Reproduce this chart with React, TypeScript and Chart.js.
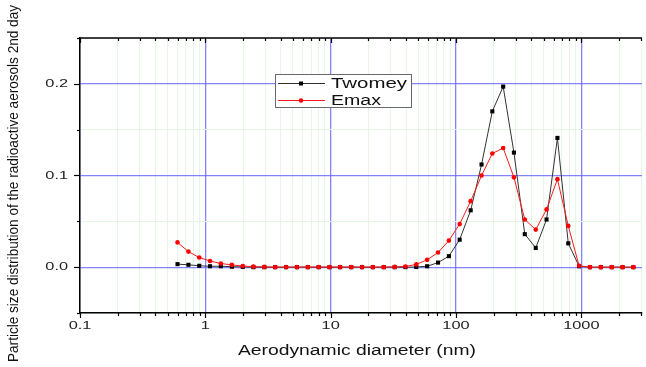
import React, { useEffect, useRef } from "react";
import { Chart, registerables } from "chart.js";

Chart.register(...registerables);

// ---- data ----
const diameters = [
  0.6, 0.733, 0.894, 1.09, 1.33, 1.63, 1.99, 2.42, 2.96, 3.61, 4.41, 5.38, 6.57, 8.02, 9.79,
  11.9, 14.6, 17.8, 21.7, 26.5, 32.4, 39.5, 48.2, 58.9, 71.9, 87.8, 107, 131, 160, 195, 238,
  290, 354, 433, 528, 645, 787, 960, 1172, 1431, 1747, 2133, 2603,
];
const twomey = [
  0.0033, 0.0026, 0.0015, 0.001, 0.001, 0.0005, 0.0003, 0, 0, 0, 0, 0, 0, 0, 0,
  0, 0, 0, 0, 0, 0, 0, 0.0002, 0.001, 0.005, 0.012, 0.03, 0.062, 0.112, 0.17, 0.197,
  0.125, 0.036, 0.021, 0.052, 0.141, 0.026, 0.001, 0, 0, 0, 0, 0,
];
const emax = [
  0.027, 0.017, 0.0105, 0.0067, 0.004, 0.0025, 0.0012, 0.0006, 0.0003, 0.0001, 0.0001, 0.0001, 0.0001, 0.0001, 0.0001,
  0.0001, 0.0001, 0.0001, 0.0001, 0.0001, 0.0003, 0.0008, 0.003, 0.008, 0.016, 0.029, 0.047, 0.072, 0.1, 0.124, 0.13,
  0.098, 0.052, 0.041, 0.063, 0.096, 0.045, 0.0015, 0, 0, 0, 0, 0,
];
const seriesNames = ["Twomey", "Emax"];
const xDecades = [0.1, 1, 10, 100, 1000];
const xTickLabels = ["0.1", "1", "10", "100", "1000"];
const yMajorValues = [0, 0.1, 0.2];
const yTickLabels = ["0.0", "0.1", "0.2"];
const xTitle = "Aerodynamic diameter (nm)";
const yTitle = "Particle size distribution of the radioactive aerosols 2nd day";

const X_MIN = 0.1;
const X_MAX = 3050;
const Y_MIN = -0.05;
const Y_MAX = 0.25;

const BLUE = "rgba(100,100,255,0.8)";
const GREEN = "#e4f6e4";
const FONT = "'Liberation Sans', Arial, sans-serif";

const xAllTicks: number[] = [];
xDecades.forEach((d) => {
  for (let m = 1; m <= 9; m++) {
    const v = +(d * m).toPrecision(6);
    if (v <= X_MAX) xAllTicks.push(v);
  }
});

const isDecade = (v: number) => Math.abs(Math.log10(v) - Math.round(Math.log10(v))) < 1e-6;
const isYMajor = (v: number) => Math.abs(v * 10 - Math.round(v * 10)) < 1e-6;

function stretchedText(
  ctx: CanvasRenderingContext2D,
  text: string,
  x: number,
  y: number,
  sx: number,
  align: "left" | "center" | "right"
) {
  ctx.save();
  ctx.translate(x, y);
  ctx.scale(sx, 1);
  ctx.textAlign = align;
  ctx.fillText(text, 0, 0);
  ctx.restore();
}

const decorPlugin = {
  id: "decor",
  afterDraw(chart: any) {
    const ctx: CanvasRenderingContext2D = chart.ctx;
    const xs = chart.scales.x;
    const ys = chart.scales.y;
    const { left, right, top, bottom } = chart.chartArea;
    ctx.save();
    ctx.strokeStyle = "#000";
    ctx.lineWidth = 1.5;
    // top axis line
    ctx.beginPath();
    ctx.moveTo(left - 0.5, top);
    ctx.lineTo(right, top);
    ctx.stroke();
    // x ticks (bottom outward, top inward)
    ctx.lineWidth = 1.2;
    xAllTicks.forEach((v) => {
      const px = Math.round(xs.getPixelForValue(v)) + 0.5;
      const len = isDecade(v) ? 5 : 3;
      ctx.beginPath();
      ctx.moveTo(px, bottom);
      ctx.lineTo(px, bottom + len);
      ctx.moveTo(px, top);
      ctx.lineTo(px, top + len);
      ctx.stroke();
    });
    // y ticks (left outward)
    for (let k = 0; k <= 6; k++) {
      const v = Y_MIN + k * 0.05;
      const py = Math.round(ys.getPixelForValue(v)) + 0.5;
      const len = isYMajor(v) ? 6 : 3;
      ctx.beginPath();
      ctx.moveTo(left, py);
      ctx.lineTo(left - len, py);
      ctx.stroke();
    }
    // tick labels
    ctx.fillStyle = "#222";
    ctx.font = `11.5px ${FONT}`;
    ctx.textBaseline = "middle";
    xDecades.forEach((v, i) => {
      stretchedText(ctx, xTickLabels[i], xs.getPixelForValue(v), bottom + 13, 1.42, "center");
    });
    yMajorValues.forEach((v, i) => {
      stretchedText(ctx, yTickLabels[i], left - 12, ys.getPixelForValue(v), 1.42, "right");
    });
    // axis titles
    ctx.fillStyle = "#111";
    ctx.font = `14px ${FONT}`;
    const xw = ctx.measureText(xTitle).width;
    stretchedText(ctx, xTitle, 357, 351, 238 / xw, "center");
    const yw = ctx.measureText(yTitle).width;
    ctx.save();
    ctx.translate(14, 183.5);
    ctx.rotate(-Math.PI / 2);
    ctx.scale(357 / yw, 1);
    ctx.textAlign = "center";
    ctx.fillText(yTitle, 0, 0);
    ctx.restore();

    // legend
    const bx = 275.5, by = 74.5, bw = 136, bh = 33;
    ctx.fillStyle = "#fff";
    ctx.fillRect(bx, by, bw, bh);
    ctx.strokeStyle = "#6a6a6a";
    ctx.lineWidth = 1;
    ctx.strokeRect(bx, by, bw, bh);
    const rows = [
      { y: 83.5, color: "#333", marker: "rect" },
      { y: 100.5, color: "#ff1a1a", marker: "circle" },
    ];
    rows.forEach((r, i) => {
      ctx.strokeStyle = r.color;
      ctx.lineWidth = 1;
      ctx.beginPath();
      ctx.moveTo(278, r.y);
      ctx.lineTo(325, r.y);
      ctx.stroke();
      ctx.fillStyle = r.marker === "rect" ? "#000" : "#ff0000";
      if (r.marker === "rect") {
        ctx.fillRect(299, r.y - 2, 4, 4);
      } else {
        ctx.beginPath();
        ctx.arc(301, r.y, 2.3, 0, Math.PI * 2);
        ctx.fill();
      }
      ctx.fillStyle = "#111";
      ctx.font = `14px ${FONT}`;
      ctx.textBaseline = "middle";
      const w = ctx.measureText(seriesNames[i]).width;
      const target = i === 0 ? 76 : 50;
      stretchedText(ctx, seriesNames[i], 331, r.y + 0.5, target / w, "left");
    });
    ctx.restore();
  },
};

export default function App() {
  const ref = useRef<HTMLCanvasElement | null>(null);
  useEffect(() => {
    if (!ref.current) return;
    const chart = new Chart(ref.current, {
      type: "line",
      data: {
        datasets: [
          {
            label: seriesNames[0],
            data: diameters.map((d, i) => ({ x: d, y: twomey[i] })),
            borderColor: "#333",
            backgroundColor: "#000",
            borderWidth: 1,
            pointStyle: "rect",
            pointRadius: 2.9,
            pointBorderWidth: 0,
            pointBackgroundColor: "#000",
            order: 1,
          },
          {
            label: seriesNames[1],
            data: diameters.map((d, i) => ({ x: d, y: emax[i] })),
            borderColor: "#ff1a1a",
            backgroundColor: "#ff0000",
            borderWidth: 1,
            pointStyle: "circle",
            pointRadius: 2.3,
            pointBorderWidth: 0,
            pointBackgroundColor: "#ff0000",
            order: 0,
          },
        ],
      },
      options: {
        responsive: false,
        animation: false,
        events: [],
        layout: { padding: { top: 38, left: 0, right: 0, bottom: 0 } },
        plugins: { legend: { display: false }, tooltip: { enabled: false } },
        scales: {
          x: {
            type: "logarithmic",
            min: X_MIN,
            max: X_MAX,
            afterBuildTicks: (scale: any) => {
              scale.ticks = xAllTicks.map((v) => ({ value: v, major: isDecade(v) }));
            },
            afterFit: (scale: any) => {
              scale.height = 54;
            },
            ticks: { display: false, autoSkip: false },
            grid: {
              drawTicks: false,
              color: (c: any) => (c.tick && isDecade(c.tick.value) ? BLUE : GREEN),
              lineWidth: (c: any) => (c.tick && isDecade(c.tick.value) ? 1.3 : 1),
            },
            border: { display: true, color: "#000", width: 1.5 },
          },
          y: {
            type: "linear",
            min: Y_MIN,
            max: Y_MAX,
            ticks: { display: false, stepSize: 0.05, autoSkip: false },
            afterFit: (scale: any) => {
              scale.width = 80;
            },
            grid: {
              drawTicks: false,
              color: (c: any) => (c.tick && isYMajor(c.tick.value) ? BLUE : GREEN),
              lineWidth: (c: any) => (c.tick && isYMajor(c.tick.value) ? 1.3 : 1),
            },
            border: { display: true, color: "#000", width: 1.5 },
          },
        },
      },
      plugins: [decorPlugin],
    } as any);
    return () => chart.destroy();
  }, []);
  return (
    <div style={{ position: "absolute", left: 0, top: 0, width: 646, height: 367, background: "#fff" }}>
      <canvas ref={ref} width={646} height={367} style={{ display: "block" }} />
    </div>
  );
}
